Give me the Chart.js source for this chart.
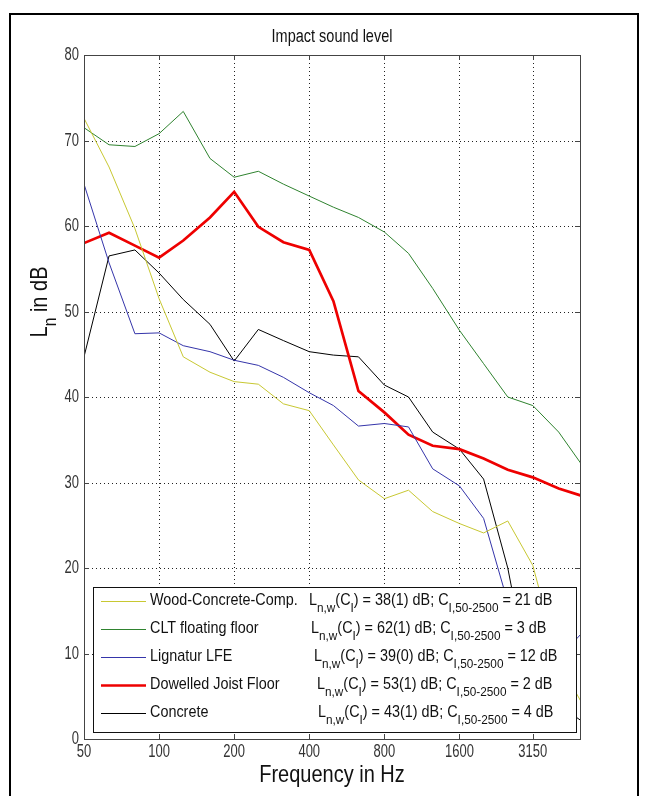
<!DOCTYPE html>
<html>
<head>
<meta charset="utf-8">
<script src="https://cdn.jsdelivr.net/npm/chart.js@4.4.1/dist/chart.umd.min.js"></script>
<style>
  html, body { margin: 0; padding: 0; background: #fff; }
  #wrap { position: relative; width: 648px; height: 796px; }
  canvas { display: block; }
</style>
</head>
<body>
<div id="wrap"><canvas id="c" width="648" height="796"></canvas></div>
<script>
// ---- data ----
const frequencies = [50, 63, 80, 100, 125, 160, 200, 250, 315, 400, 500, 630, 800, 1000, 1250, 1600, 2000, 2500, 3150, 4000, 5000];
const xTickValues = [50, 100, 200, 400, 800, 1600, 3150];
const yTickValues = [0, 10, 20, 30, 40, 50, 60, 70, 80];
const seriesNames = ["Wood-Concrete-Comp.", "CLT floating floor", "Lignatur LFE", "Dowelled Joist Floor", "Concrete"];
const woodConcrete = [72.6, 66.9, 59.7, 51.5, 44.7, 42.9, 41.8, 41.5, 39.2, 38.4, 34.4, 30.3, 28.1, 29.1, 26.6, 25.2, 24.1, 25.5, 20.3, 9.0, 4.0];
const cltFloating  = [71.5, 69.5, 69.3, 70.8, 73.4, 67.9, 65.7, 66.4, 64.9, 63.5, 62.2, 61.0, 59.3, 56.8, 52.7, 47.8, 43.9, 40.0, 39.0, 35.9, 31.9];
const lignatur     = [64.9, 55.7, 47.4, 47.5, 46.0, 45.3, 44.3, 43.7, 42.3, 40.5, 39.0, 36.6, 36.9, 36.5, 31.6, 29.6, 25.8, 16.0, 8.0, 9.5, 12.5];
const dowelled     = [58.0, 59.2, 57.7, 56.3, 58.3, 61.0, 64.0, 59.9, 58.1, 57.2, 51.2, 40.7, 38.2, 35.6, 34.3, 33.9, 32.8, 31.5, 30.6, 29.3, 28.4];
const concrete     = [44.7, 56.5, 57.2, 54.5, 51.4, 48.5, 44.2, 47.9, 46.6, 45.3, 44.9, 44.7, 41.4, 40.0, 35.9, 33.9, 30.4, 20.0, 5.0, 4.0, 2.0];
const lnwValues = [38, 62, 39, 53, 43];
const ciValues = [1, 1, 0, 1, 1];
const cRangeValues = [21, 3, 12, 2, 4];

const seriesValues = [woodConcrete, cltFloating, lignatur, dowelled, concrete];
const seriesColors = ["#c8c832", "#2f832f", "#3535aa", "#ee0000", "#000000"];
const seriesWidths = [1, 1, 1, 2.7, 1];

const FONT = "'Liberation Sans', Arial, Helvetica, sans-serif";

// text drawn with a vertical stretch (the reference lettering is tall and narrow)
function sText(ctx, t, x, y, size, sy, align) {
  ctx.save();
  ctx.translate(x, y);
  ctx.scale(1, sy);
  ctx.font = size + "px " + FONT;
  ctx.textAlign = align || "left";
  ctx.textBaseline = "middle";
  ctx.fillText(t, 0, 0);
  ctx.restore();
}
function richWidth(ctx, parts, size, subRatio) {
  let w = 0;
  for (const [t, sub] of parts) {
    ctx.font = (sub ? size * subRatio : size) + "px " + FONT;
    w += ctx.measureText(t).width;
  }
  return w;
}
function sRich(ctx, parts, x, y, size, sy, subRatio) {
  let cx = x;
  for (const [t, sub] of parts) {
    const s = sub ? size * subRatio : size;
    ctx.save();
    ctx.translate(cx, sub ? y + size * 0.45 * sy : y);
    ctx.scale(1, sy);
    ctx.font = s + "px " + FONT;
    ctx.textAlign = "left";
    ctx.textBaseline = "middle";
    ctx.fillText(t, 0, 0);
    cx += ctx.measureText(t).width;
    ctx.restore();
  }
  return cx;
}

const decorPlugin = {
  id: 'decor',
  beforeDraw(chart) {
    const ctx = chart.ctx;
    ctx.save();
    ctx.fillStyle = "#fff";
    ctx.fillRect(0, 0, chart.width, chart.height);
    ctx.strokeStyle = "#000";
    ctx.lineWidth = 2;
    ctx.beginPath();
    ctx.moveTo(10, 796);
    ctx.lineTo(10, 14);
    ctx.lineTo(638, 14);
    ctx.lineTo(638, 796);
    ctx.stroke();
    ctx.restore();
  },
  beforeDatasetsDraw(chart) {
    const ctx = chart.ctx;
    const a = chart.chartArea;
    const xs = chart.scales.x, ys = chart.scales.y;
    ctx.save();
    ctx.strokeStyle = "#222";
    ctx.lineWidth = 1;
    ctx.setLineDash([1, 3]);
    for (const v of xTickValues) {
      const px = Math.round(xs.getPixelForValue(v)) + 0.5;
      if (px <= a.left + 1 || px >= a.right - 1) continue;
      ctx.beginPath(); ctx.moveTo(px, a.top); ctx.lineTo(px, a.bottom); ctx.stroke();
    }
    for (const v of yTickValues) {
      const py = Math.round(ys.getPixelForValue(v)) + 0.5;
      if (py <= a.top + 1 || py >= a.bottom - 1) continue;
      ctx.beginPath(); ctx.moveTo(a.left, py); ctx.lineTo(a.right, py); ctx.stroke();
    }
    ctx.restore();
  },
  afterDatasetsDraw(chart) {
    const ctx = chart.ctx;
    const a = chart.chartArea;
    const xs = chart.scales.x, ys = chart.scales.y;
    ctx.save();
    // axes box
    ctx.strokeStyle = "#444";
    ctx.lineWidth = 1;
    ctx.strokeRect(Math.round(a.left) + 0.5, Math.round(a.top) + 0.5, Math.round(a.right - a.left), Math.round(a.bottom - a.top));
    // inward tick marks
    const tl = 5;
    ctx.beginPath();
    for (const v of xTickValues) {
      const px = Math.round(xs.getPixelForValue(v)) + 0.5;
      ctx.moveTo(px, a.bottom); ctx.lineTo(px, a.bottom - tl);
      ctx.moveTo(px, a.top); ctx.lineTo(px, a.top + tl);
    }
    for (const v of yTickValues) {
      const py = Math.round(ys.getPixelForValue(v)) + 0.5;
      ctx.moveTo(a.left, py); ctx.lineTo(a.left + tl, py);
      ctx.moveTo(a.right, py); ctx.lineTo(a.right - tl, py);
    }
    ctx.stroke();

    // tick labels
    ctx.fillStyle = "#333";
    for (const v of xTickValues) {
      sText(ctx, String(v), xs.getPixelForValue(v), a.bottom + 13, 13, 1.4, "center");
    }
    for (const v of yTickValues) {
      sText(ctx, String(v), a.left - 5, ys.getPixelForValue(v), 13, 1.4, "right");
    }

    // legend box
    const lx = 93, ly = 587, lw = 483, lh = 145;
    ctx.fillStyle = "#fff";
    ctx.fillRect(lx, ly, lw, lh);
    ctx.strokeStyle = "#111";
    ctx.lineWidth = 1;
    ctx.strokeRect(lx + 0.5, ly + 0.5, lw, lh);
    const rowY0 = 601, rowStep = 28;
    const statsX = [309, 311, 314, 317, 318];
    chart.data.datasets.forEach((ds, i) => {
      const y = rowY0 + i * rowStep;
      ctx.strokeStyle = ds.borderColor;
      ctx.lineWidth = ds.borderWidth;
      ctx.beginPath(); ctx.moveTo(101, y + 0.5); ctx.lineTo(146, y + 0.5); ctx.stroke();
      ctx.fillStyle = "#111";
      sText(ctx, ds.label, 150, y, 14.4, 1.12, "left");
      sRich(ctx, [
        ["L", false], ["n,w", true], ["(C", false], ["I", true],
        [") = " + lnwValues[i] + "(" + ciValues[i] + ") dB; C", false], ["I,50-2500", true],
        [" = " + cRangeValues[i] + " dB", false]
      ], statsX[i], y, 14.4, 1.12, 0.82);
    });

    // title
    ctx.fillStyle = "#111";
    sText(ctx, "Impact sound level", (a.left + a.right) / 2, 37, 14.5, 1.3, "center");
    // x title
    sText(ctx, "Frequency in Hz", (a.left + a.right) / 2, 775, 20, 1.2, "center");
    // y title (rotated, with subscript)
    ctx.save();
    ctx.translate(40, 302);
    ctx.rotate(-Math.PI / 2);
    const parts = [["L", false], ["n", true], [" in dB", false]];
    const w = richWidth(ctx, parts, 20, 0.78);
    sRich(ctx, parts, -w / 2, 0, 20, 1.2, 0.78);
    ctx.restore();
    ctx.restore();
  }
};

const datasets = seriesNames.map((name, i) => ({
  label: name,
  data: frequencies.map((f, j) => ({ x: f, y: seriesValues[i][j] })),
  borderColor: seriesColors[i],
  backgroundColor: seriesColors[i],
  borderWidth: seriesWidths[i],
  pointRadius: 0,
  tension: 0,
  fill: false
}));

new Chart(document.getElementById('c'), {
  type: 'line',
  data: { datasets },
  plugins: [decorPlugin],
  options: {
    responsive: false,
    animation: false,
    events: [],
    layout: { padding: { left: 0, right: 68, top: 55, bottom: 0 } },
    plugins: { legend: { display: false }, title: { display: false }, tooltip: { enabled: false } },
    scales: {
      x: {
        type: 'logarithmic',
        min: 50, max: 4870,
        afterBuildTicks: (s) => { s.ticks = xTickValues.map(v => ({ value: v })); },
        afterFit: (s) => { s.height = 57; },
        grid: { display: false, drawTicks: false },
        border: { display: false },
        ticks: { display: false, autoSkip: false }
      },
      y: {
        type: 'linear',
        min: 0, max: 80,
        afterBuildTicks: (s) => { s.ticks = yTickValues.map(v => ({ value: v })); },
        afterFit: (s) => { s.width = 84; },
        grid: { display: false, drawTicks: false },
        border: { display: false },
        ticks: { display: false }
      }
    }
  }
});
</script>
</body>
</html>
